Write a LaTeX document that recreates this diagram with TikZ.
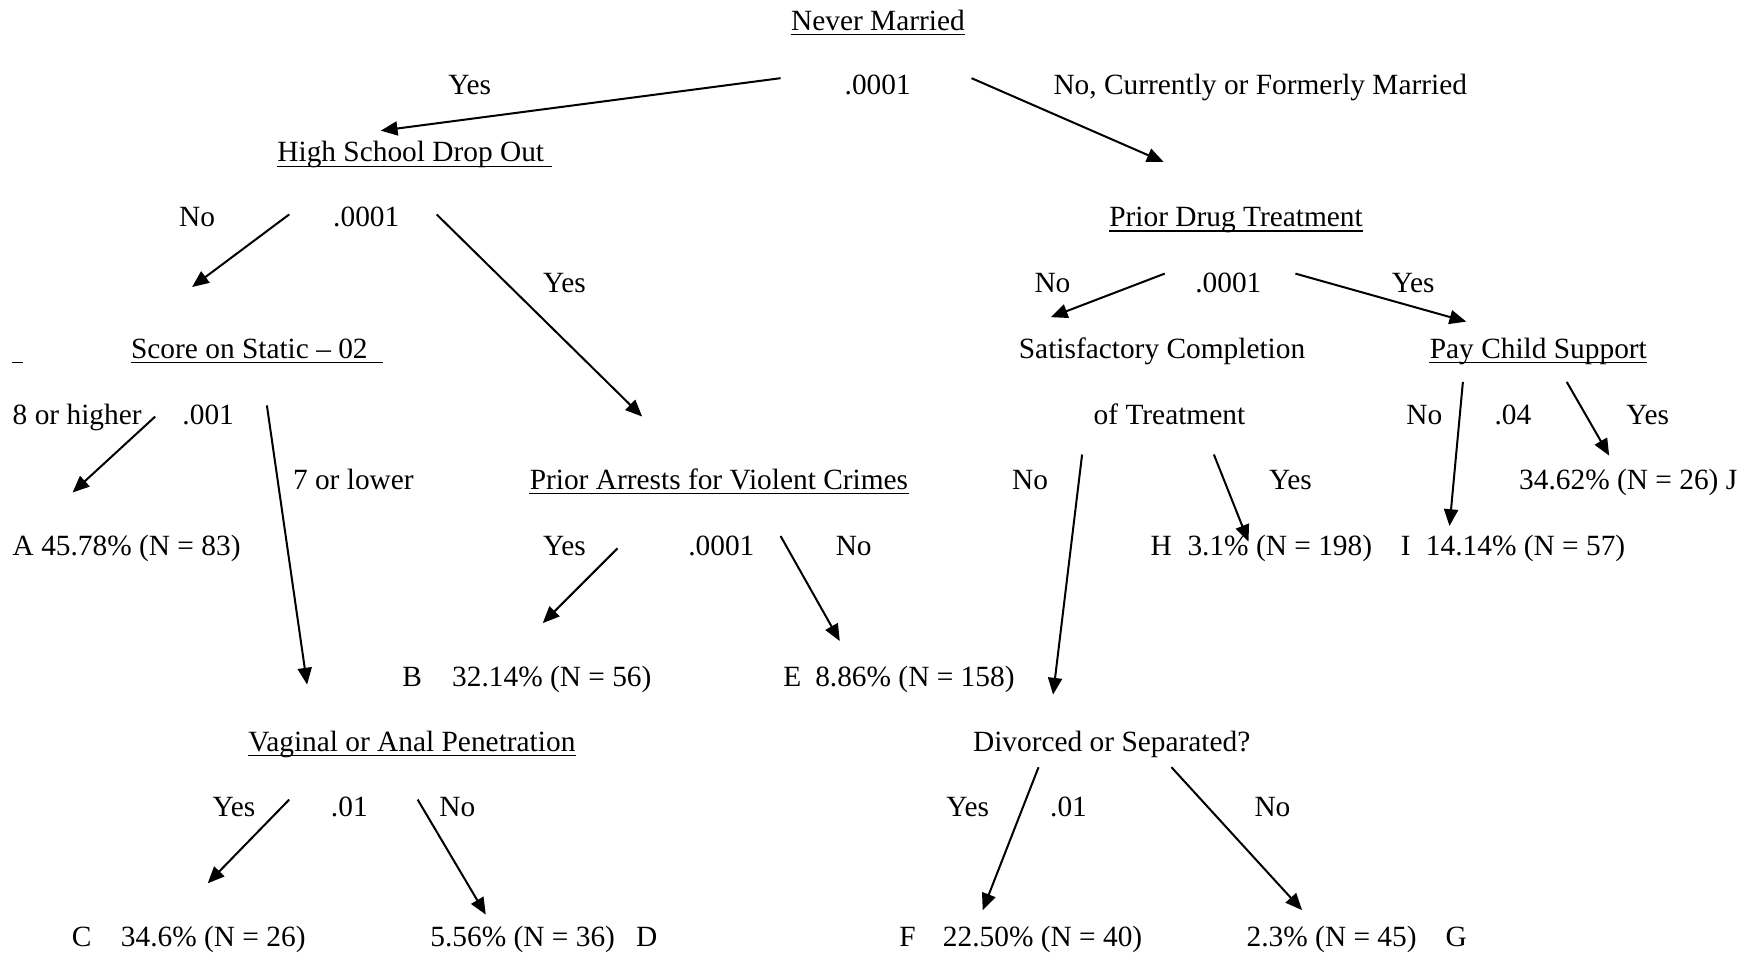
\documentclass[tikz,border=0pt]{standalone}
\usepackage{fontspec}
\setmainfont{Liberation Serif}
\usetikzlibrary{arrows.meta}
% underline drawn just below the baseline of a named node
\newcommand\ulnode[1]{\draw[uline] ([yshift=-1.9pt]#1.base west) -- ([yshift=-1.9pt]#1.base east);}
\begin{document}
\begin{tikzpicture}[x=0.5pt,y=-0.5pt,
  lbl/.style={inner sep=0pt, anchor=base west, yshift=-0.5pt, font=\fontsize{13.15}{15}\selectfont},
  arr/.style={line width=0.9pt, -{Triangle[length=7.5pt,width=6.3pt]}},
  uline/.style={line width=0.6pt}]
\useasboundingbox (0,0) rectangle (1568,853);

% ---------- split variables ----------
\node[lbl] (never) at (708,26) {Never Married};
\node[lbl] (hs)    at (248,144) {High School Drop Out\kern3.3pt};
\node[lbl] (pdt)   at (993,202) {Prior Drug Treatment};
\node[lbl] (blank) at (11,320) {\rule{4.5pt}{0pt}};
\node[lbl] (stat)  at (117,320) {Score on Static -- 02\kern6.6pt};
\node[lbl] (sat1)  at (912,320) {Satisfactory Completion};
\node[lbl] (sat2)  at (979,379) {of Treatment};
\node[lbl] (pcs)   at (1280,320) {Pay Child Support};
\node[lbl] (par)   at (474,437) {Prior Arrests for Violent Crimes};
\node[lbl] (vap)   at (222,672) {Vaginal or Anal Penetration};
\node[lbl] (div)   at (871,672) {Divorced or Separated?};
\ulnode{never}\ulnode{hs}\ulnode{pdt}\ulnode{blank}\ulnode{stat}
\ulnode{pcs}\ulnode{par}\ulnode{vap}

% ---------- branch labels and p-values ----------
\node[lbl] (y1)  at (401,84) {Yes};
\node[lbl] (p1)  at (756,84) {.0001};
\node[lbl] (n1)  at (943,84) {No, Currently or Formerly Married};
\node[lbl] (n2)  at (160,202) {No};
\node[lbl] (p2)  at (298,202) {.0001};
\node[lbl] (y2)  at (486,261) {Yes};
\node[lbl] (n3)  at (926,261) {No};
\node[lbl] (p3)  at (1070,261) {.0001};
\node[lbl] (y3)  at (1246,261) {Yes};
\node[lbl] (h8)  at (11,379) {8 or higher};
\node[lbl] (p4)  at (163,379) {.001};
\node[lbl] (n5)  at (1259,379) {No};
\node[lbl] (p5)  at (1338,379) {.04};
\node[lbl] (y5)  at (1456,379) {Yes};
\node[lbl] (l7)  at (262,437) {7 or lower};
\node[lbl] (n6)  at (906,437) {No};
\node[lbl] (y6)  at (1136,437) {Yes};
\node[lbl] (y7)  at (486,496) {Yes};
\node[lbl] (p7)  at (616,496) {.0001};
\node[lbl] (n7)  at (748,496) {No};
\node[lbl] (y8)  at (190,730) {Yes};
\node[lbl] (p8)  at (296,730) {.01};
\node[lbl] (n8)  at (393,730) {No};
\node[lbl] (y9)  at (847,730) {Yes};
\node[lbl] (p9)  at (940,730) {.01};
\node[lbl] (n9)  at (1123,730) {No};

% ---------- terminal groups ----------
\node[lbl] (tA) at (11,496)   {A 45.78\% (N = 83)};
\node[lbl] (tJ) at (1360,437) {34.62\% (N = 26) J};
\node[lbl] (tH) at (1030,496) {H\hspace{7pt}3.1\% (N = 198)};
\node[lbl] (tI) at (1254,496) {I\hspace{6.9pt}14.14\% (N = 57)};
\node[lbl] (tB) at (360,614)  {B\hspace{13.5pt}32.14\% (N = 56)};
\node[lbl] (tE) at (701,614)  {E\hspace{6.3pt}8.86\% (N = 158)};
\node[lbl] (tC) at (64,847)   {C\hspace{13.2pt}34.6\% (N = 26)};
\node[lbl] (tD) at (385,847)  {5.56\% (N = 36)\hspace{9.5pt}D};
\node[lbl] (tF) at (805,847)  {F\hspace{12.2pt}22.50\% (N = 40)};
\node[lbl] (tG) at (1116,847) {2.3\% (N = 45)\hspace{13pt}G};

% ---------- arrow end points ----------
\coordinate (a1s) at (699,70);   \coordinate (a1e) at (341,117);
\coordinate (a2s) at (870,70);   \coordinate (a2e) at (1042,145);
\coordinate (a3s) at (259,192);  \coordinate (a3e) at (172,257);
\coordinate (a4s) at (391,192);  \coordinate (a4e) at (575,373);
\coordinate (a5s) at (139,373);  \coordinate (a5e) at (65,441);
\coordinate (a6s) at (239,363);  \coordinate (a6e) at (275,613);
\coordinate (a7s) at (553,491);  \coordinate (a7e) at (486,558);
\coordinate (a8s) at (699,480);  \coordinate (a8e) at (752,574);
\coordinate (a9s) at (259,716);  \coordinate (a9e) at (186,791);
\coordinate (a10s) at (374,716); \coordinate (a10e) at (435,819);
\coordinate (a11s) at (1043,245);\coordinate (a11e) at (941,284);
\coordinate (a12s) at (1160,245);\coordinate (a12e) at (1313,288);
\coordinate (a13s) at (969,407); \coordinate (a13e) at (943,622);
\coordinate (a14s) at (1087,407);\coordinate (a14e) at (1118,485);
\coordinate (a15s) at (1310,342);\coordinate (a15e) at (1298,471);
\coordinate (a16s) at (1403,342);\coordinate (a16e) at (1441,408);
\coordinate (a17s) at (930,687); \coordinate (a17e) at (880,815);
\coordinate (a18s) at (1049,687);\coordinate (a18e) at (1166,815);

\foreach \i in {1,...,18}{\draw[arr] (a\i s) -- (a\i e);}
\end{tikzpicture}
\end{document}
